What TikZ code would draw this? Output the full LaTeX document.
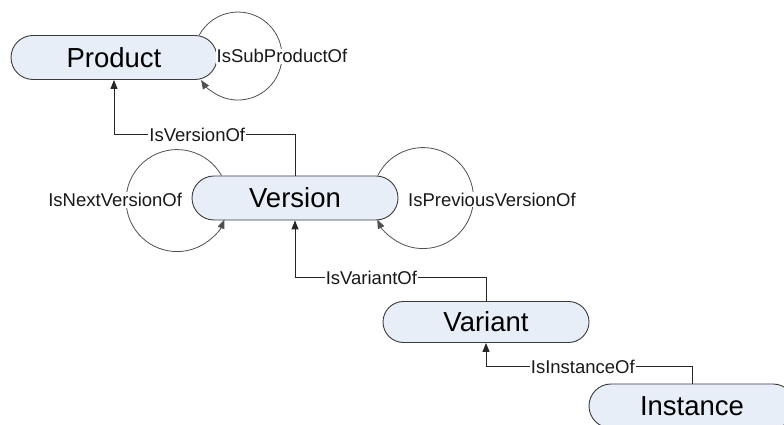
\documentclass[tikz,border=0pt]{standalone}
\usepackage{fontspec}
\setmainfont{Liberation Sans}
\usepackage{xcolor}
\definecolor{boxfill}{HTML}{E8EEF8}
\definecolor{boxline}{HTML}{3A3A3A}
\definecolor{loopgray}{HTML}{505050}
\usetikzlibrary{arrows.meta,positioning,shapes.misc}

\begin{document}
\begin{tikzpicture}[
        x=1pt, y=1pt,
        entity/.style   = {rounded rectangle, draw=boxline, fill=boxfill, line width=0.9pt,
                           minimum width=206pt, minimum height=44pt, inner sep=0pt,
                           font=\fontsize{27.5}{30}\selectfont},
        rel/.style      = {fill=white, inner sep=1pt, text=black!90,
                           font=\fontsize{18.5}{20}\selectfont},
        link/.style     = {-{Triangle[length=9pt,width=7pt]}, line width=1pt, black!85},
        selfloop/.style = {-{Triangle[length=9pt,width=7pt]}, line width=0.8pt, loopgray}
    ]
        \useasboundingbox (0,0) rectangle (784,425);
        \clip (0,0) rectangle (784,425);

        % ---- Entities ----
        \node[entity] (prod) at (114,367.5) {Product};
        \node[entity] (ver)  at (295,227)   {Version};
        \node[entity, minimum height=41pt] (var) at (486,103) {Variant};
        \node[entity] (inst) at (692,19)    {Instance};

        % ---- Hierarchy ----
        \draw[link] (ver.north) -- ++(0,41) -| node[rel, pos=0.27] {IsVersionOf} (prod.south);
        \draw[link] (var.north) -- ++(0,23.5) -| node[rel, pos=0.3] {IsVariantOf} (ver.south);
        \draw[link] (inst.north) -- ++(0,17) -| node[rel, pos=0.265] {IsInstanceOf} (var.south);

        % ---- Self relations ----
        \draw[selfloop] ([xshift=85.3pt]prod.north)
            arc[start angle=151.5, end angle=-147, radius=44]
            node[rel, midway, yshift=-2pt] {IsSubProductOf};
        \draw[selfloop] ([xshift=-73.5pt]ver.north)
            arc[start angle=29.4, end angle=338.1, radius=51]
            node[rel, midway, xshift=-11pt, yshift=4pt] {IsNextVersionOf};
        \draw[selfloop] ([xshift=82.8pt]ver.north)
            arc[start angle=153.5, end angle=-154.8, radius=50.5]
            node[rel, midway, xshift=18.5pt, yshift=-1pt] {IsPreviousVersionOf};
    \end{tikzpicture}
\end{document}
